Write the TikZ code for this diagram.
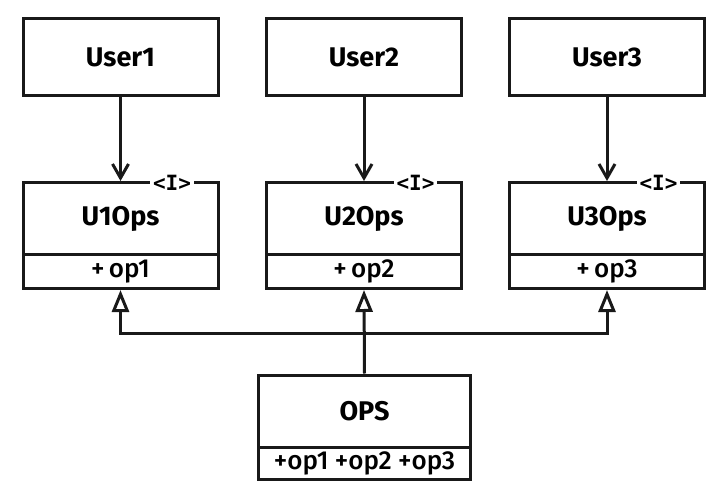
\documentclass[tikz,border=0pt]{standalone}
\usepackage{fontspec}
\setmainfont{Fira Sans}
\newfontfamily\opfont{Fira Sans Medium}
\newfontfamily\tagfont{DejaVu Sans Mono}
\usepackage{tikz}
\usetikzlibrary{arrows.meta, positioning}
\definecolor{mydark}{RGB}{25,25,25}
\tikzset{
  userbox/.style={rectangle, draw=mydark, fill=white, line width=3pt,
    minimum width=195pt, minimum height=77pt, inner sep=0pt,
    font=\fontsize{27}{30}\selectfont\bfseries},
  namebox/.style={rectangle, draw=mydark, fill=white, line width=3pt,
    minimum width=195pt, minimum height=72pt, inner sep=0pt,
    font=\fontsize{27}{30}\selectfont\bfseries},
  opbox/.style={rectangle, draw=mydark, fill=white, line width=3pt,
    minimum width=195pt, minimum height=34pt, inner sep=0pt,
    font=\fontsize{26}{28}\selectfont\opfont},
  ifacetag/.style={fill=white, inner sep=3pt,
    font=\fontsize{21}{22}\selectfont\tagfont\bfseries},
  arrow/.style={-{Straight Barb[length=14pt,width=16pt,line width=3pt]}, line width=3pt, color=mydark},
  implarrow/.style={-{Triangle[open,length=22pt,width=17pt,line width=3pt,fill=white]}, line width=3pt, color=mydark}
}
\begin{document}
\begin{tikzpicture}[x=1pt,y=-1pt]
  \useasboundingbox (0,0) rectangle (726,500);
  % users
  \node[userbox] (user1) at (120.5,57) {User1};
  \node[userbox] (user2) at (364,57) {User2};
  \node[userbox] (user3) at (607,57) {User3};
  % interfaces
  \node[namebox] (u1n) at (120.5,218.5) {U1Ops};
  \node[opbox, below=-3pt of u1n] (u1m) {+\,op1};
  \node[namebox] (u2n) at (364,218.5) {U2Ops};
  \node[opbox, below=-3pt of u2n] (u2m) {+\,op2};
  \node[namebox] (u3n) at (607,218.5) {U3Ops};
  \node[opbox, below=-3pt of u3n] (u3m) {+\,op3};
  \node[ifacetag] (tag1) at (172,182.5) {<I>};
  \node[ifacetag] (tag2) at (415.5,182.5) {<I>};
  \node[ifacetag] (tag3) at (658.5,182.5) {<I>};
  % implementation
  \node[namebox, minimum width=212pt] (opsn) at (364.5,411) {OPS};
  \node[opbox, minimum width=212pt, minimum height=32pt, below=-3pt of opsn] (opsm) {+op1 +op2 +op3};
  \coordinate (bus) at (364,333);
  \draw[arrow] (user1) -- (u1n);
  \draw[arrow] (user2) -- (u2n);
  \draw[arrow] (user3) -- (u3n);
  \draw[implarrow] (bus) -| (u1m.south);
  \draw[implarrow] (bus) -| (u3m.south);
  \draw[implarrow] (opsn.north) -- (u2m.south);
\end{tikzpicture}
\end{document}
